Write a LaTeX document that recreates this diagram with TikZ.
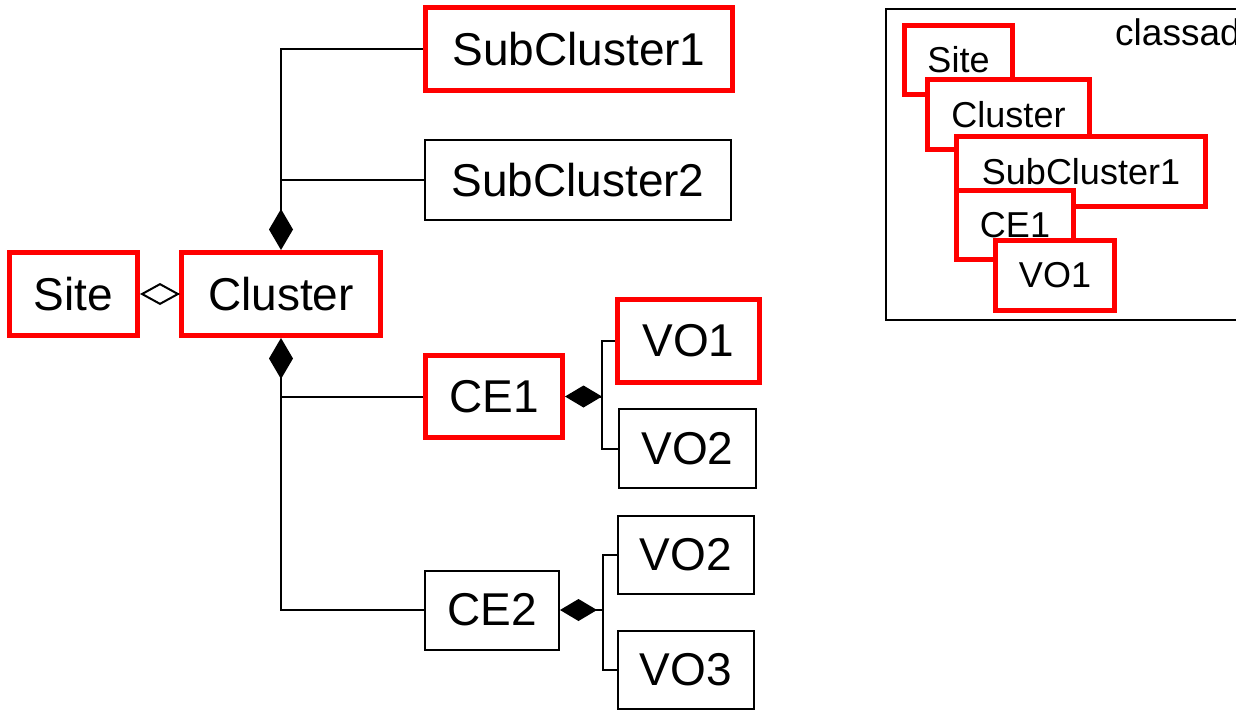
\documentclass[tikz,border=0pt]{standalone}
\usepackage{fontspec}
\setmainfont{Liberation Sans}
\usetikzlibrary{arrows.meta}
\definecolor{hl}{RGB}{255,0,0}
\begin{document}
\begin{tikzpicture}[x=1pt,y=-1pt,
  box/.style={draw=black,line width=2pt,fill=white,inner sep=0pt,
    font=\fontsize{46}{50}\selectfont},
  redbox/.style={box,draw=hl,line width=5pt},
  minibox/.style={draw=hl,line width=5pt,fill=white,inner sep=0pt,
    font=\fontsize{36}{40}\selectfont},
  conn/.style={line width=2pt},
  comp/.style={conn,{Diamond[length=41pt,width=24pt]}-},
  comph/.style={conn,{Diamond[length=37pt,width=22pt]}-},
  aggr/.style={conn,{Diamond[open,fill=white,length=40pt,width=22pt]}-}]
\useasboundingbox (0,0) rectangle (1236,710);

% class hierarchy
\node[redbox,minimum width=307pt,minimum height=83pt] (sc1) at (579,49) {SubCluster1};
\node[box,minimum width=306pt,minimum height=80pt] (sc2) at (578,180) {SubCluster2};
\node[redbox,minimum width=128pt,minimum height=83pt] (site) at (73.5,294) {Site};
\node[redbox,minimum width=199pt,minimum height=83pt] (cluster) at (281,294) {Cluster};
\node[redbox,minimum width=137pt,minimum height=82pt] (ce1) at (494,396.5) {CE1};
\node[box,minimum width=134pt,minimum height=79pt] (ce2) at (492,610) {CE2};
\node[redbox,minimum width=142pt,minimum height=83pt] (vo1) at (688.5,341) {VO1};
\node[box,minimum width=137pt,minimum height=79pt] (vo2a) at (687.5,448.5) {VO2};
\node[box,minimum width=136pt,minimum height=78pt] (vo2b) at (686,555) {VO2};
\node[box,minimum width=136pt,minimum height=78pt] (vo3) at (686,669.5) {VO3};

% aggregation and composition links
\draw[aggr] (site.east) -- (cluster.west);
\draw[comp] (cluster.north) |- (sc1.west);
\draw[conn] (sc2.west) -- (sc2.west -| cluster.north);
\draw[comp] (cluster.south) |- (ce2.west);
\draw[conn] (ce1.west) -- (ce1.west -| cluster.south);

\coordinate (j1) at (602,396.5);
\draw[comph] (ce1.east) -- (j1);
\draw[conn] (vo1.west) -| (j1) |- (vo2a.west);

\coordinate (j2) at (603,610);
\draw[comph] (ce2.east) -- (j2);
\draw[conn] (vo2b.west) -| (j2) |- (vo3.west);

% classad panel
\draw[line width=2pt] (886,9) rectangle (1260,320);
\node[anchor=base west,inner sep=0pt,font=\fontsize{37}{40}\selectfont] (cad) at (1115,45) {classad};
\node[minibox,minimum width=108pt,minimum height=69pt] (msite) at (958.5,60) {Site};
\node[minibox,minimum width=162pt,minimum height=70pt] (mcluster) at (1008.5,114.5) {Cluster};
\node[minibox,minimum width=249pt,minimum height=70pt] (msc1) at (1081,171.5) {SubCluster1};
\node[minibox,minimum width=117pt,minimum height=69pt] (mce1) at (1015,225) {CE1};
\node[minibox,minimum width=119pt,minimum height=70pt] (mvo1) at (1055,275.5) {VO1};
\end{tikzpicture}
\end{document}
